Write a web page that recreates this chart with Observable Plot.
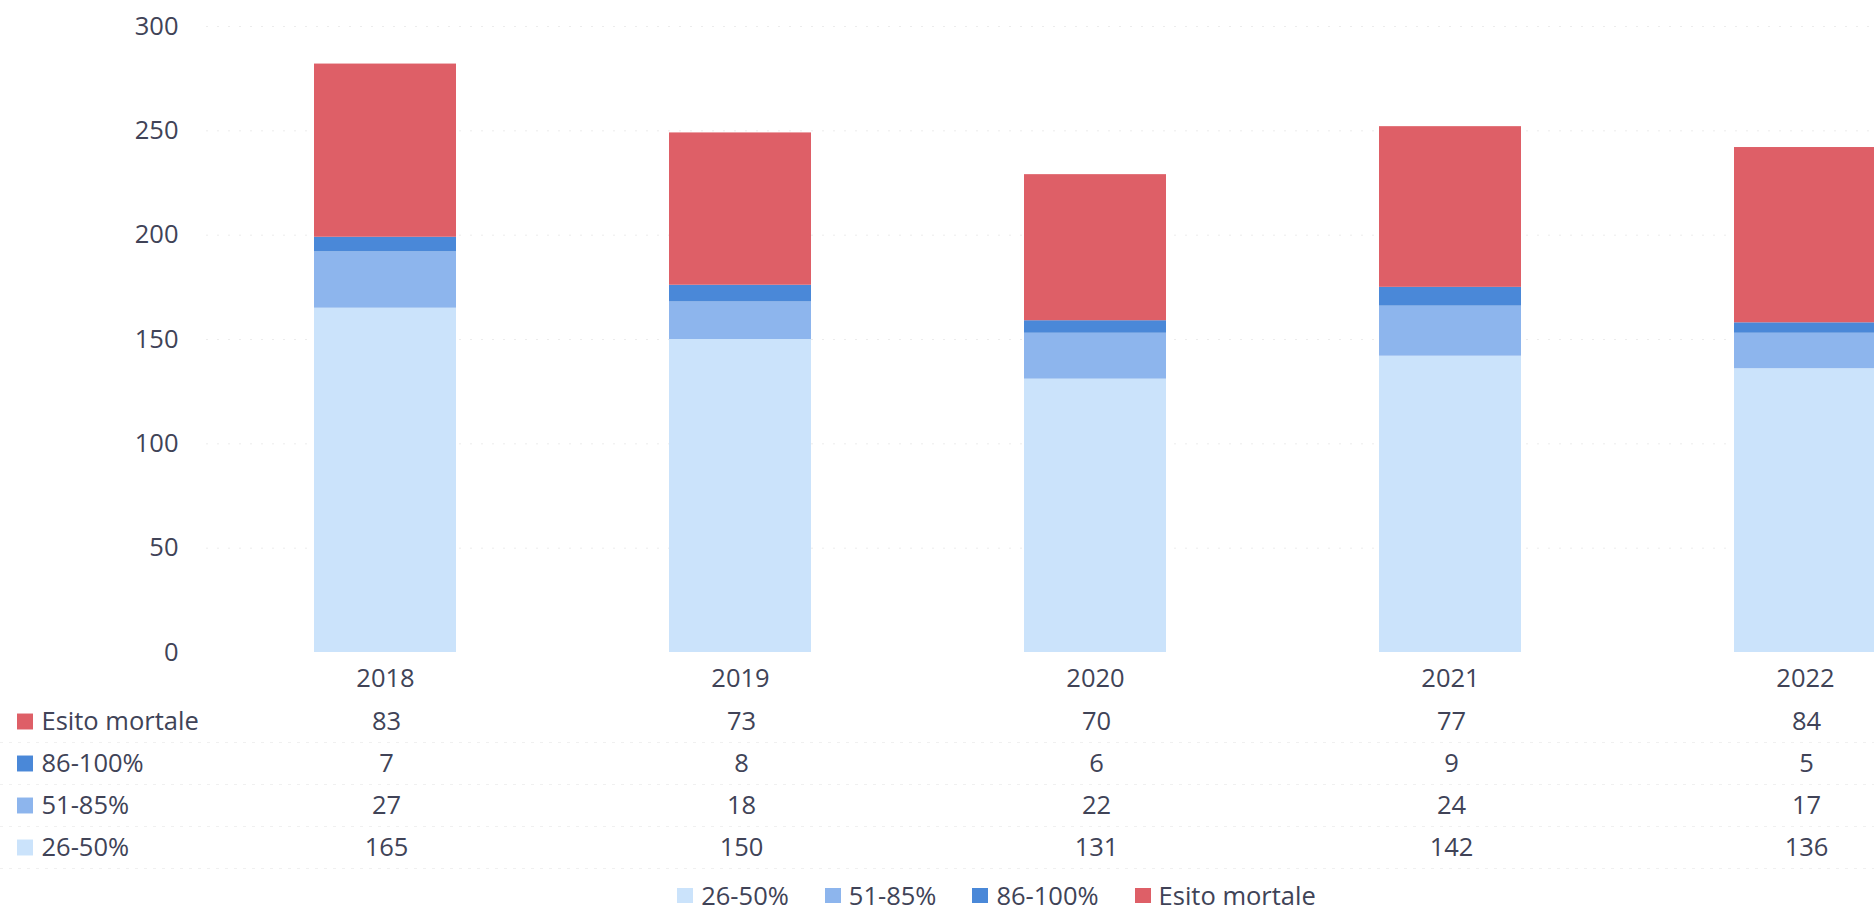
<!DOCTYPE html>
<html>
<head>
<meta charset="utf-8">
<script src="https://cdn.jsdelivr.net/npm/d3@7"></script>
<script src="https://cdn.jsdelivr.net/npm/@observablehq/plot@0.6"></script>
<style>
  html, body { margin: 0; padding: 0; background: #fff; overflow: hidden; width: 1874px; height: 912px; }
  #wrap { position: relative; width: 1985px; height: 912px; font-family: "Open Sans", sans-serif; color: #404357; }
  #chart, #table { position: absolute; left: 0; }
  #chart { top: 0; }
  #table { top: 699px; }
  #wrap svg { max-width: none; overflow: visible; }
  #legend { position: absolute; top: 880px; left: 4px; width: 1985px; height: 30px; line-height: 30px; display: flex; justify-content: center; align-items: center; font-size: 25.5px; white-space: nowrap; }
  #legend .item { display: flex; align-items: center; margin: 0 18px; }
  #legend .sw { width: 16px; height: 15px; margin-right: 8px; }
</style>
</head>
<body>
<div id="wrap">
  <div id="chart"></div>
  <div id="table"></div>
  <div id="legend"></div>
</div>
<script>
// ---- data ----
const years = ["2018", "2019", "2020", "2021", "2022"];
const series = ["26-50%", "51-85%", "86-100%", "Esito mortale"]; // bottom to top
const colors = ["#cbe3fb", "#8db5ed", "#4a88d8", "#de5f67"];
const v2650 = [165, 150, 131, 142, 136];
const v5185 = [27, 18, 22, 24, 17];
const v86100 = [7, 8, 6, 9, 5];
const vMortale = [83, 73, 70, 77, 84];
const yTicks = [0, 50, 100, 150, 200, 250, 300];
const tableRows = ["Esito mortale", "86-100%", "51-85%", "26-50%"]; // table order

const valuesBySeries = {
  "26-50%": v2650,
  "51-85%": v5185,
  "86-100%": v86100,
  "Esito mortale": vMortale
};

const rows = [];
years.forEach((yr, i) => {
  series.forEach(s => rows.push({ year: yr, series: s, value: valuesBySeries[s][i] }));
});

const W = 1985;
const textColor = "#404357";
const font = "'Open Sans', sans-serif";
const fs = "25.5px";
const xOpts = { domain: years, range: [206, W], paddingInner: 0.6, paddingOuter: 0.3 };
const colorOpts = { domain: series, range: colors };

// ---- chart ----
const chart = Plot.plot({
  width: W,
  height: 700,
  marginLeft: 206,
  marginRight: 0,
  marginTop: 26,
  marginBottom: 48,
  style: { fontFamily: font, fontSize: fs, color: textColor, background: "transparent", overflow: "visible" },
  x: { ...xOpts, label: null, tickSize: 0, tickPadding: 16 },
  y: { domain: [0, 300], ticks: yTicks, label: null, tickSize: 0, tickPadding: 28 },
  color: colorOpts,
  marks: [
    Plot.gridY(yTicks.filter(t => t > 0), { stroke: "#ececec", strokeOpacity: 1, strokeDasharray: "2,9" }),
    Plot.barY(rows, Plot.stackY({ x: "year", y: "value", fill: "series", order: null }))
  ]
});
document.getElementById("chart").appendChild(chart);

// ---- data table ----
const table = Plot.plot({
  width: W,
  height: 172,
  marginLeft: 0,
  marginRight: 0,
  marginTop: 0,
  marginBottom: 0,
  style: { fontFamily: font, fontSize: fs, color: textColor, background: "transparent", overflow: "visible" },
  x: { ...xOpts, axis: null },
  y: { type: "band", domain: tableRows, range: [0, 169], padding: 0, axis: null },
  color: colorOpts,
  marks: [
    Plot.ruleY(tableRows, { y: d => d, dy: 21, stroke: "#f0f0f0", strokeDasharray: "3,6" }),
    Plot.text(rows, { x: "year", y: "series", text: d => String(d.value), fill: textColor }),
    Plot.dot(tableRows, { y: d => d, frameAnchor: "left", dx: 24.5, symbol: "square", r: 9, fill: d => d, stroke: null }),
    Plot.text(tableRows, { y: d => d, text: d => d, frameAnchor: "left", dx: 41, textAnchor: "start", fill: textColor })
  ]
});
document.getElementById("table").appendChild(table);

// ---- legend ----
const legend = document.getElementById("legend");
series.forEach((s, i) => {
  const it = document.createElement("div");
  it.className = "item";
  const sw = document.createElement("div");
  sw.className = "sw";
  sw.style.background = colors[i];
  const lab = document.createElement("span");
  lab.textContent = s;
  it.appendChild(sw);
  it.appendChild(lab);
  legend.appendChild(it);
});
</script>
</body>
</html>
